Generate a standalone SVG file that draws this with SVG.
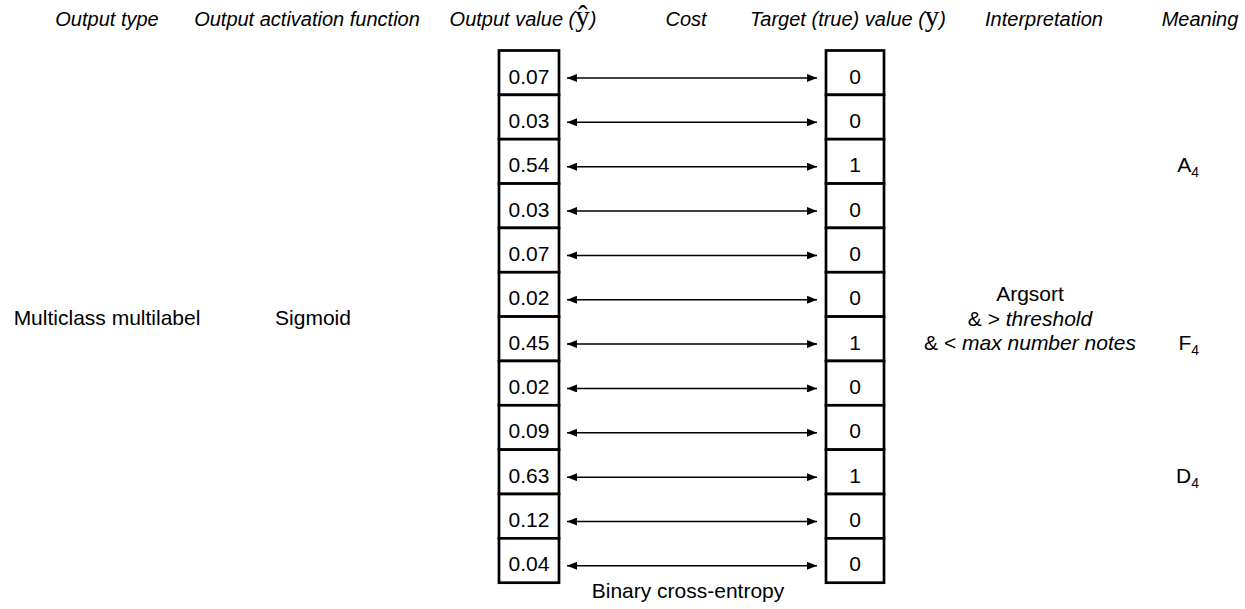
<svg xmlns="http://www.w3.org/2000/svg" width="1245" height="609" viewBox="0 0 1245 609">
<style>
text{font-family:"Liberation Sans",Arial,sans-serif;fill:#000}
.h{font-size:20px;font-style:italic;text-anchor:middle}
.t{font-size:21px}
.c{text-anchor:middle}
.s{font-family:"Liberation Serif","Times New Roman",serif;font-style:normal;font-size:29px}
.cell{fill:#fff;stroke:#000;stroke-width:2.7}
.arr{stroke:#000;stroke-width:1.5;fill:none;marker-start:url(#ah);marker-end:url(#ah)}
.sub{font-size:14px}
</style>
<defs>
<marker id="ah" viewBox="0 0 10 8" refX="10" refY="4" markerWidth="10" markerHeight="8" markerUnits="userSpaceOnUse" orient="auto-start-reverse">
<path d="M0,0 L10,4 L0,8 z" fill="#000"/>
</marker>
</defs>
<g id="headers">
<text class="h" x="107" y="26">Output type</text>
<text class="h" x="307" y="26">Output activation function</text>
<text class="h" x="523" y="26">Output value (<tspan class="s">ŷ</tspan>)</text>
<text class="h" x="686" y="26">Cost</text>
<text class="h" x="848" y="26">Target (true) value (<tspan class="s">y</tspan>)</text>
<text class="h" x="1044" y="26">Interpretation</text>
<text class="h" x="1200" y="26">Meaning</text>
</g>
<g id="output-type"><text class="t c" x="107" y="325">Multiclass multilabel</text></g>
<g id="activation"><text class="t c" x="313" y="325">Sigmoid</text></g>
<g id="output-values">
<g id="yhat-0"><rect class="cell" x="499" y="50.5" width="60" height="44.35"/><text class="t c" x="529" y="83.5">0.07</text></g>
<g id="yhat-1"><rect class="cell" x="499" y="94.85" width="60" height="44.35"/><text class="t c" x="529" y="127.85">0.03</text></g>
<g id="yhat-2"><rect class="cell" x="499" y="139.2" width="60" height="44.35"/><text class="t c" x="529" y="172.2">0.54</text></g>
<g id="yhat-3"><rect class="cell" x="499" y="183.55" width="60" height="44.35"/><text class="t c" x="529" y="216.55">0.03</text></g>
<g id="yhat-4"><rect class="cell" x="499" y="227.9" width="60" height="44.35"/><text class="t c" x="529" y="260.9">0.07</text></g>
<g id="yhat-5"><rect class="cell" x="499" y="272.25" width="60" height="44.35"/><text class="t c" x="529" y="305.25">0.02</text></g>
<g id="yhat-6"><rect class="cell" x="499" y="316.6" width="60" height="44.35"/><text class="t c" x="529" y="349.6">0.45</text></g>
<g id="yhat-7"><rect class="cell" x="499" y="360.95" width="60" height="44.35"/><text class="t c" x="529" y="393.95">0.02</text></g>
<g id="yhat-8"><rect class="cell" x="499" y="405.3" width="60" height="44.35"/><text class="t c" x="529" y="438.3">0.09</text></g>
<g id="yhat-9"><rect class="cell" x="499" y="449.65" width="60" height="44.35"/><text class="t c" x="529" y="482.65">0.63</text></g>
<g id="yhat-10"><rect class="cell" x="499" y="494" width="60" height="44.35"/><text class="t c" x="529" y="527">0.12</text></g>
<g id="yhat-11"><rect class="cell" x="499" y="538.35" width="60" height="44.35"/><text class="t c" x="529" y="571.35">0.04</text></g>
</g>
<g id="targets">
<g id="y-0"><rect class="cell" x="826" y="50.5" width="58" height="44.35"/><text class="t c" x="855" y="83.5">0</text></g>
<g id="y-1"><rect class="cell" x="826" y="94.85" width="58" height="44.35"/><text class="t c" x="855" y="127.85">0</text></g>
<g id="y-2"><rect class="cell" x="826" y="139.2" width="58" height="44.35"/><text class="t c" x="855" y="172.2">1</text></g>
<g id="y-3"><rect class="cell" x="826" y="183.55" width="58" height="44.35"/><text class="t c" x="855" y="216.55">0</text></g>
<g id="y-4"><rect class="cell" x="826" y="227.9" width="58" height="44.35"/><text class="t c" x="855" y="260.9">0</text></g>
<g id="y-5"><rect class="cell" x="826" y="272.25" width="58" height="44.35"/><text class="t c" x="855" y="305.25">0</text></g>
<g id="y-6"><rect class="cell" x="826" y="316.6" width="58" height="44.35"/><text class="t c" x="855" y="349.6">1</text></g>
<g id="y-7"><rect class="cell" x="826" y="360.95" width="58" height="44.35"/><text class="t c" x="855" y="393.95">0</text></g>
<g id="y-8"><rect class="cell" x="826" y="405.3" width="58" height="44.35"/><text class="t c" x="855" y="438.3">0</text></g>
<g id="y-9"><rect class="cell" x="826" y="449.65" width="58" height="44.35"/><text class="t c" x="855" y="482.65">1</text></g>
<g id="y-10"><rect class="cell" x="826" y="494" width="58" height="44.35"/><text class="t c" x="855" y="527">0</text></g>
<g id="y-11"><rect class="cell" x="826" y="538.35" width="58" height="44.35"/><text class="t c" x="855" y="571.35">0</text></g>
</g>
<g id="connectors">
<line class="arr" x1="567" y1="78" x2="817" y2="78"/>
<line class="arr" x1="567" y1="122.35" x2="817" y2="122.35"/>
<line class="arr" x1="567" y1="166.7" x2="817" y2="166.7"/>
<line class="arr" x1="567" y1="211.05" x2="817" y2="211.05"/>
<line class="arr" x1="567" y1="255.4" x2="817" y2="255.4"/>
<line class="arr" x1="567" y1="299.75" x2="817" y2="299.75"/>
<line class="arr" x1="567" y1="344.1" x2="817" y2="344.1"/>
<line class="arr" x1="567" y1="388.45" x2="817" y2="388.45"/>
<line class="arr" x1="567" y1="432.8" x2="817" y2="432.8"/>
<line class="arr" x1="567" y1="477.15" x2="817" y2="477.15"/>
<line class="arr" x1="567" y1="521.5" x2="817" y2="521.5"/>
<line class="arr" x1="567" y1="565.85" x2="817" y2="565.85"/>
</g>
<g id="cost-label"><text class="t c" x="688" y="598">Binary cross-entropy</text></g>
<g id="interpretation">
<text class="t c" x="1030" y="301">Argsort</text>
<text class="t c" x="1030" y="325.5">&amp; &gt; <tspan font-style="italic">threshold</tspan></text>
<text class="t c" x="1030" y="350">&amp; &lt; <tspan font-style="italic">max number notes</tspan></text>
</g>
<g id="meaning">
<text class="t" x="1199" y="172.2" text-anchor="end">A<tspan class="sub" dy="5">4</tspan></text>
<text class="t" x="1199" y="349.6" text-anchor="end">F<tspan class="sub" dy="5">4</tspan></text>
<text class="t" x="1199" y="482.65" text-anchor="end">D<tspan class="sub" dy="5">4</tspan></text>
</g>
</svg>
